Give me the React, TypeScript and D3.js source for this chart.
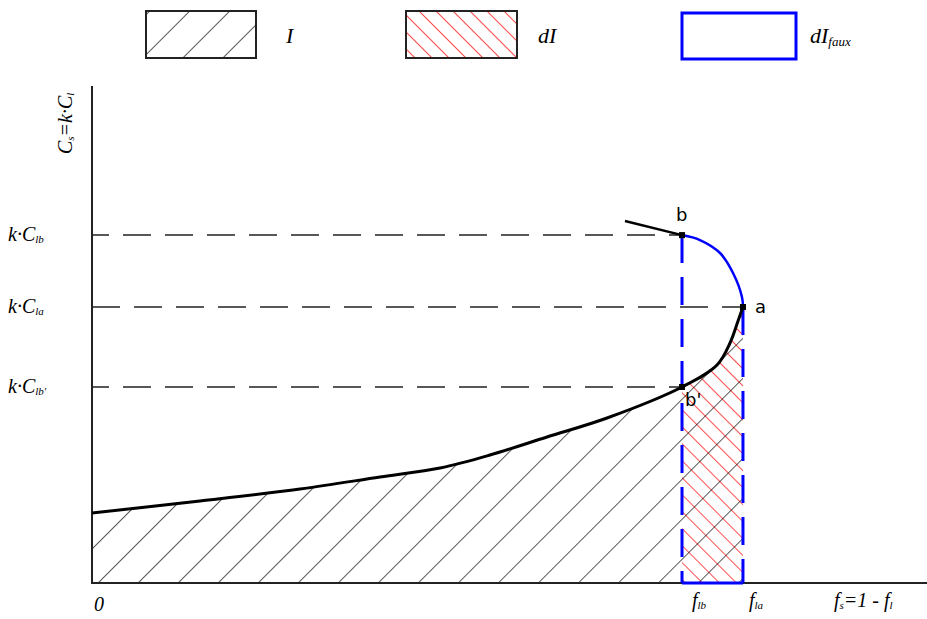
import React from "react";
import * as d3 from "d3";

// solidification curve, fs (0..1) vs k·Cl (0..1)
const lowerCurve: [number, number][] = [
  [0, 0.1408],
  [0.1293, 0.165],
  [0.2491, 0.1891],
  [0.3449, 0.2133],
  [0.4168, 0.2314],
  [0.4766, 0.2575],
  [0.5449, 0.2938],
  [0.6168, 0.332],
  [0.7066, 0.3944],
  [0.7485, 0.4386],
  [0.7641, 0.4829],
  [0.7737, 0.5272],
  [0.7796, 0.5553],
];
const upperArc: [number, number][] = [
  [0.7796, 0.5553],
  [0.7784, 0.5755],
  [0.7677, 0.6237],
  [0.7521, 0.664],
  [0.7281, 0.6901],
  [0.7066, 0.7],
];
const tail: [number, number][] = [
  [0.7066, 0.7],
  [0.6383, 0.7284],
];

const fB = 0.7066;
const fA = 0.7796;
const yLevels = [0.7, 0.5553, 0.3944];
const yTickSubs = ["lb", "la", "lb'"];
const dashOffsets = [11, 0, 11];
const pointNames = ["b", "a", "b'"];
const legendLabels = ["I", "dI", "dI"];

const W = 927;
const H = 619;
const font = "'Liberation Serif', 'DejaVu Serif', serif";

const App = () => {
  const x = d3.scaleLinear().domain([0, 1]).range([92, 927]);
  const y = d3.scaleLinear().domain([0, 1]).range([583, 86]);

  const line = d3
    .line<[number, number]>()
    .x((d) => x(d[0]))
    .y((d) => y(d[1]))
    .curve(d3.curveCatmullRom);

  // area under the curve (region I)
  const areaI = d3
    .area<[number, number]>()
    .x((d) => x(d[0]))
    .y0(y(0))
    .y1((d) => y(d[1]))
    .curve(d3.curveCatmullRom);

  const dIPts = lowerCurve.filter((d) => d[0] >= fB - 1e-6);

  const pts: [number, number][] = [
    [fB, yLevels[0]],
    [fA, yLevels[1]],
    [fB, yLevels[2]],
  ];

  const legendX = [146, 406, 682];

  return (
    <svg width={W} height={H} style={{ position: "absolute", left: 0, top: 0 }}>
      <defs>
        <pattern
          id="hatchI"
          patternUnits="userSpaceOnUse"
          width={28.3}
          height={28.3}
          patternTransform="rotate(45)"
        >
          <line x1={0} y1={0} x2={0} y2={28.3} stroke="#000" strokeWidth={1.3} />
        </pattern>
        <pattern
          id="hatchdI"
          patternUnits="userSpaceOnUse"
          width={12}
          height={12}
          patternTransform="rotate(-45)"
        >
          <line x1={0} y1={0} x2={0} y2={12} stroke="#ff0000" strokeWidth={1.4} />
        </pattern>
      </defs>
      <rect width={W} height={H} fill="#fff" />

      {/* legend */}
      <g fontFamily={font} fontStyle="italic" fontSize={22}>
        <rect x={legendX[0]} y={11} width={110} height={47} fill="url(#hatchI)" stroke="#222" strokeWidth={2} />
        <text x={286} y={43}>{legendLabels[0]}</text>
        <rect x={legendX[1]} y={11} width={111} height={47} fill="url(#hatchdI)" stroke="#222" strokeWidth={2} />
        <text x={538} y={43}>{legendLabels[1]}</text>
        <rect x={legendX[2]} y={13} width={114} height={46} fill="none" stroke="#0000ff" strokeWidth={3} />
        <text x={810} y={43}>
          {legendLabels[2]}
          <tspan fontSize={13} dy={3}>faux</tspan>
        </text>
      </g>

      {/* hatched regions */}
      <path d={areaI(dIPts) ?? ""} fill="url(#hatchdI)" />
      <path d={areaI(lowerCurve) ?? ""} fill="url(#hatchI)" />

      {/* dashed guide lines */}
      {yLevels.map((v, i) => (
        <line
          key={i}
          x1={x(0)}
          x2={x(i === 1 ? fA : fB)}
          y1={y(v)}
          y2={y(v)}
          stroke="#222"
          strokeWidth={1.5}
          strokeDasharray="28,14"
          strokeDashoffset={dashOffsets[i]}
        />
      ))}

      {/* axes */}
      <line x1={x(0)} x2={x(0)} y1={y(1)} y2={y(0) + 1} stroke="#222" strokeWidth={2} />
      <line x1={x(0)} x2={W} y1={y(0)} y2={y(0)} stroke="#222" strokeWidth={2} />

      {/* dI faux outline */}
      <line x1={x(fB)} x2={x(fB)} y1={y(yLevels[0])} y2={y(0)} stroke="#0000ff" strokeWidth={3} strokeDasharray="28,14" />
      <line x1={x(fA)} x2={x(fA)} y1={y(yLevels[1])} y2={y(0)} stroke="#0000ff" strokeWidth={3} strokeDasharray="28,14" />
      <line x1={x(fB)} x2={x(fA)} y1={y(0)} y2={y(0)} stroke="#0000ff" strokeWidth={3} />

      {/* curves */}
      <path d={line(lowerCurve) ?? ""} fill="none" stroke="#000" strokeWidth={3} />
      <path d={line(upperArc) ?? ""} fill="none" stroke="#0000ff" strokeWidth={2.5} />
      <path d={line(tail) ?? ""} fill="none" stroke="#000" strokeWidth={2.5} />

      {pts.map((p, i) => (
        <rect key={i} x={x(p[0]) - 3} y={y(p[1]) - 3} width={6} height={6} fill="#000" />
      ))}
      <g fontFamily="'DejaVu Sans', sans-serif" fontSize={18}>
        <text x={x(fB) - 6} y={y(yLevels[0]) - 14}>{pointNames[0]}</text>
        <text x={x(fA) + 12} y={y(yLevels[1]) + 6}>{pointNames[1]}</text>
        <text x={x(fB) + 3} y={y(yLevels[2]) + 19}>{pointNames[2]}</text>
      </g>

      {/* y tick labels */}
      <g fontFamily={font} fontStyle="italic" fontSize={20}>
        {yLevels.map((v, i) => (
          <text key={i} x={8} y={y(v) + 6}>
            k·C
            <tspan fontSize={11} dy={2}>{yTickSubs[i]}</tspan>
          </text>
        ))}
        <text transform={`translate(72,${154}) rotate(-90)`}>
          C
          <tspan fontSize={11} dy={2}>s</tspan>
          <tspan dy={-2}>=k·C</tspan>
          <tspan fontSize={11} dy={2}>l</tspan>
        </text>
        <text x={x(0) + 2} y={611}>0</text>
        <text x={x(fB) + 10} y={607}>
          f
          <tspan fontSize={11} dy={2}>lb</tspan>
        </text>
        <text x={x(fA) + 6} y={607}>
          f
          <tspan fontSize={11} dy={2}>la</tspan>
        </text>
        <text x={834} y={607}>
          f
          <tspan fontSize={11} dy={2}>s</tspan>
          <tspan dy={-2}>=1 - f</tspan>
          <tspan fontSize={11} dy={2}>l</tspan>
        </text>
      </g>
    </svg>
  );
};

export default App;
